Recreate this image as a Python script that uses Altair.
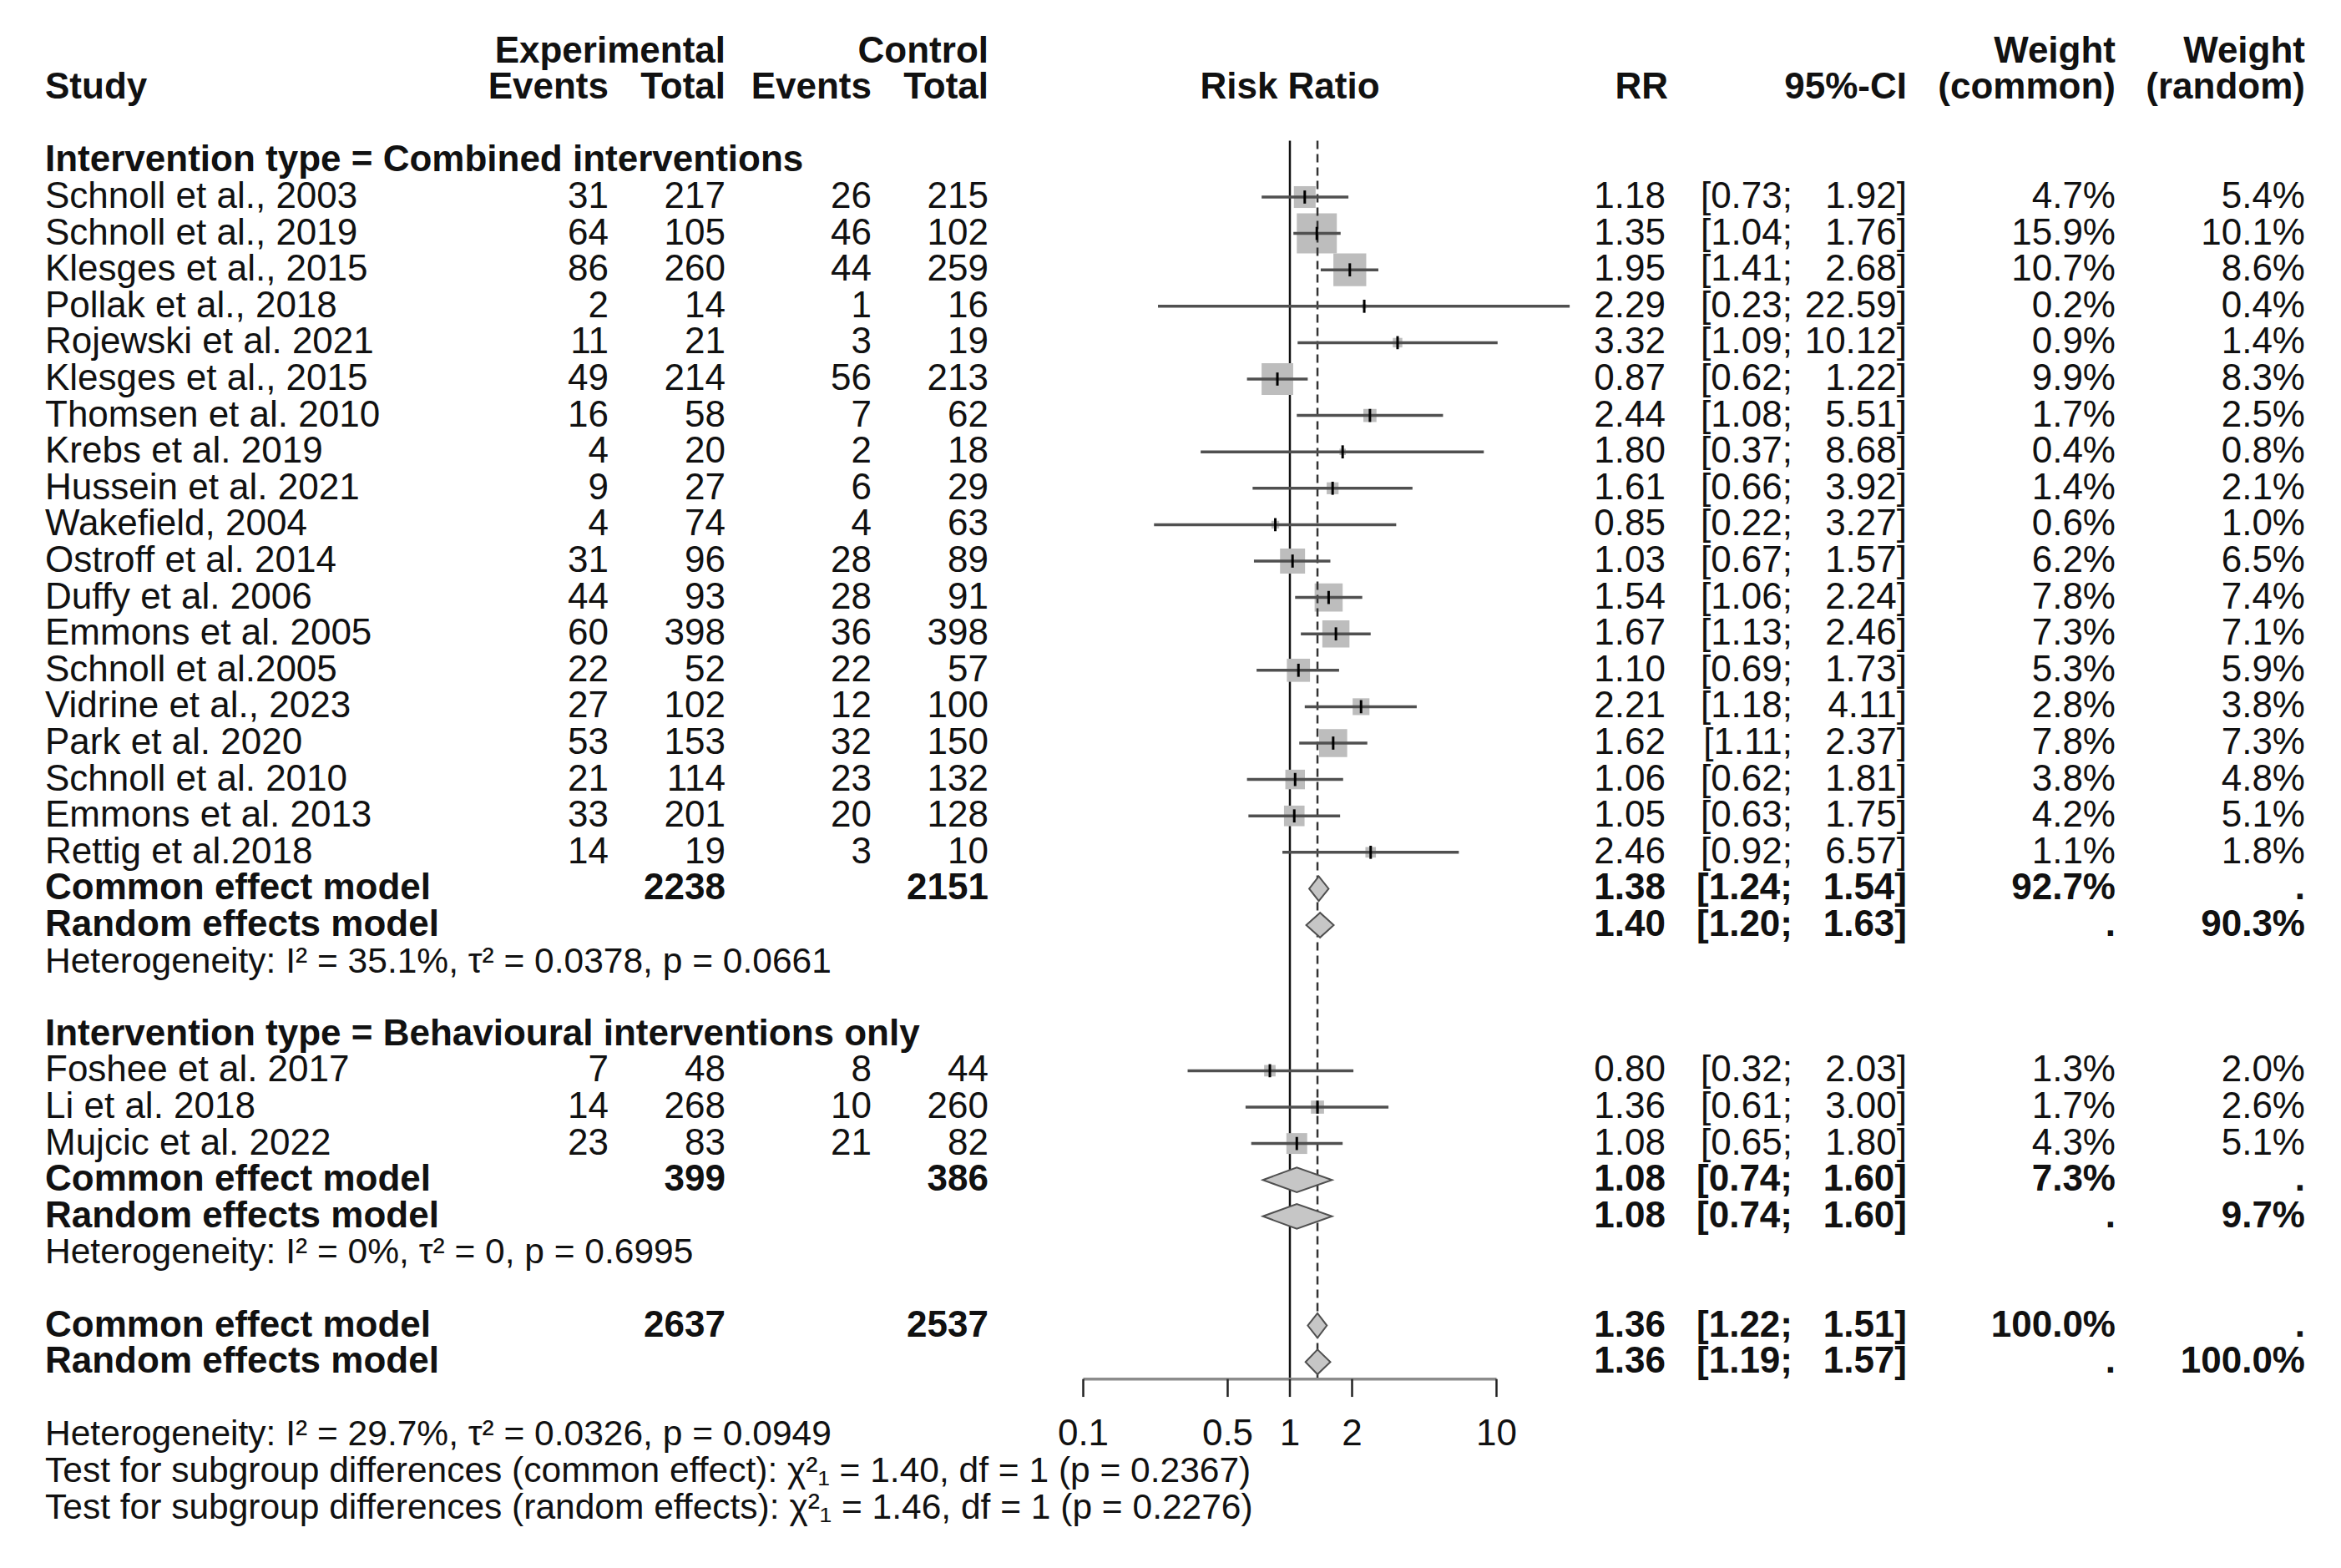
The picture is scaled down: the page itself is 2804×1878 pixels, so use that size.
import altair as alt
import pandas as pd

# ------------------------------------------------------------------ data
study = ["Schnoll et al., 2003", "Schnoll et al., 2019", "Klesges et al., 2015", "Pollak et al., 2018",
         "Rojewski et al. 2021", "Klesges et al., 2015", "Thomsen et al. 2010", "Krebs et al. 2019",
         "Hussein et al. 2021", "Wakefield, 2004", "Ostroff et al. 2014", "Duffy et al. 2006",
         "Emmons et al. 2005", "Schnoll et al.2005", "Vidrine et al., 2023", "Park et al. 2020",
         "Schnoll et al. 2010", "Emmons et al. 2013", "Rettig et al.2018",
         "Foshee et al. 2017", "Li et al. 2018", "Mujcic et al. 2022"]
ev_exp = [31, 64, 86, 2, 11, 49, 16, 4, 9, 4, 31, 44, 60, 22, 27, 53, 21, 33, 14, 7, 14, 23]
n_exp = [217, 105, 260, 14, 21, 214, 58, 20, 27, 74, 96, 93, 398, 52, 102, 153, 114, 201, 19, 48, 268, 83]
ev_ctl = [26, 46, 44, 1, 3, 56, 7, 2, 6, 4, 28, 28, 36, 22, 12, 32, 23, 20, 3, 8, 10, 21]
n_ctl = [215, 102, 259, 16, 19, 213, 62, 18, 29, 63, 89, 91, 398, 57, 100, 150, 132, 128, 10, 44, 260, 82]
rr = [1.18, 1.35, 1.95, 2.29, 3.32, 0.87, 2.44, 1.80, 1.61, 0.85, 1.03, 1.54, 1.67, 1.10, 2.21, 1.62,
      1.06, 1.05, 2.46, 0.80, 1.36, 1.08]
ci_lo = [0.73, 1.04, 1.41, 0.23, 1.09, 0.62, 1.08, 0.37, 0.66, 0.22, 0.67, 1.06, 1.13, 0.69, 1.18, 1.11,
         0.62, 0.63, 0.92, 0.32, 0.61, 0.65]
ci_hi = [1.92, 1.76, 2.68, 22.59, 10.12, 1.22, 5.51, 8.68, 3.92, 3.27, 1.57, 2.24, 2.46, 1.73, 4.11, 2.37,
         1.81, 1.75, 6.57, 2.03, 3.00, 1.80]
w_common = [4.7, 15.9, 10.7, 0.2, 0.9, 9.9, 1.7, 0.4, 1.4, 0.6, 6.2, 7.8, 7.3, 5.3, 2.8, 7.8, 3.8, 4.2, 1.1,
            1.3, 1.7, 4.3]
w_random = [5.4, 10.1, 8.6, 0.4, 1.4, 8.3, 2.5, 0.8, 2.1, 1.0, 6.5, 7.4, 7.1, 5.9, 3.8, 7.3, 4.8, 5.1, 1.8,
            2.0, 2.6, 5.1]

subgroup_titles = ["Intervention type = Combined interventions",
                   "Intervention type = Behavioural interventions only"]

model_label = ["Common effect model", "Random effects model"] * 3
model_rr = [1.38, 1.40, 1.08, 1.08, 1.36, 1.36]
model_lo = [1.24, 1.20, 0.74, 0.74, 1.22, 1.19]
model_hi = [1.54, 1.63, 1.60, 1.60, 1.51, 1.57]
model_wc = ["92.7%", ".", "7.3%", ".", "100.0%", "."]
model_wr = [".", "90.3%", ".", "9.7%", ".", "100.0%"]
model_n_exp = ["2238", "", "399", "", "2637", ""]
model_n_ctl = ["2151", "", "386", "", "2537", ""]

het_text = ["Heterogeneity: I² = 35.1%, τ² = 0.0378, p = 0.0661",
            "Heterogeneity: I² = 0%, τ² = 0, p = 0.6995",
            "Heterogeneity: I² = 29.7%, τ² = 0.0326, p = 0.0949"]
test_text = ["Test for subgroup differences (common effect): χ²₁ = 1.40, df = 1 (p = 0.2367)",
             "Test for subgroup differences (random effects): χ²₁ = 1.46, df = 1 (p = 0.2276)"]

axis_ticks = [0.1, 0.5, 1, 2, 10]
axis_labels = ["0.1", "0.5", "1", "2", "10"]
null_value = 1
common_estimate = 1.36

# ------------------------------------------------------------------ layout (rows)
study_rows = list(range(0, 19)) + [24, 25, 26]
subgroup_rows = [-1, 23]
model_rows = [19, 20, 27, 28, 31, 32]
het_rows = [21, 29, 34]
test_rows = [35, 36]
AXIS_ROW = 32.47
TICK_LEN = 0.49
LABEL_ROW = 34
LINE_TOP = -1.55

FONT = "Liberation Sans"
FS = 44
FS_SMALL = 42.5
INK = "#111111"

Y0, DY = 228.0, 43.6
YS = alt.Scale(domain=[-4, 36], range=[Y0 - 4 * DY, Y0 + 36 * DY], nice=False, zero=False)
XS = alt.Scale(type="log", domain=[0.1, 10], range=[1289.5, 1784.5], nice=False)

# column anchors (pixels in chart)
C_STUDY = 46
C_EEV, C_EN, C_CEV, C_CN = 721, 861, 1036, 1176
C_RISK = 1537
C_RR, C_LO, C_HI = 1987, 2139, 2276
C_WC, C_WR = 2526, 2753

# ------------------------------------------------------------------ frames
sdf = pd.DataFrame({
    "row": study_rows, "study": study,
    "ev_exp": [str(v) for v in ev_exp], "n_exp": [str(v) for v in n_exp],
    "ev_ctl": [str(v) for v in ev_ctl], "n_ctl": [str(v) for v in n_ctl],
    "rr": rr, "lo": ci_lo, "hi": ci_hi, "w": w_common,
    "rr_t": [f"{v:.2f}" for v in rr], "lo_t": [f"[{v:.2f};" for v in ci_lo],
    "hi_t": [f"{v:.2f}]" for v in ci_hi],
    "wc_t": [f"{v:.1f}%" for v in w_common], "wr_t": [f"{v:.1f}%" for v in w_random],
})
sdf["t1"] = sdf["row"] - 0.18
sdf["t2"] = sdf["row"] + 0.18

mdf = pd.DataFrame({
    "row": model_rows, "label": model_label,
    "rr_t": [f"{v:.2f}" for v in model_rr], "lo_t": [f"[{v:.2f};" for v in model_lo],
    "hi_t": [f"{v:.2f}]" for v in model_hi], "wc_t": model_wc, "wr_t": model_wr,
    "n_exp": model_n_exp, "n_ctl": model_n_ctl,
})
mdf_tot = mdf[mdf["n_exp"] != ""]

H = 0.34
dia = []
for i, (r, e, l, h) in enumerate(zip(model_rows, model_rr, model_lo, model_hi)):
    dia += [dict(id=i, x=l, ya=r, yb=r), dict(id=i, x=e, ya=r - H, yb=r + H), dict(id=i, x=h, ya=r, yb=r)]
ddf = pd.DataFrame(dia)


def tlayer(df, field, x, align="right", bold=False, size=FS):
    return alt.Chart(df).mark_text(
        align=align, baseline="middle", font=FONT, fontSize=size,
        fontWeight="bold" if bold else "normal", color=INK
    ).encode(x=alt.value(x), y=alt.Y("row:Q", scale=YS, axis=None), text=alt.Text(f"{field}:N"))


def one(row, label):
    return pd.DataFrame({"row": [row], "label": [label]})


layers = []

# reference line at no effect
layers.append(alt.Chart(pd.DataFrame({"x": [null_value], "a": [LINE_TOP], "b": [AXIS_ROW]}))
              .mark_rule(color="#111111", strokeWidth=2.5)
              .encode(x=alt.X("x:Q", scale=XS, axis=None), y=alt.Y("a:Q", scale=YS, axis=None), y2="b:Q"))

# squares
layers.append(alt.Chart(sdf).mark_square(color="#bdbdbd", opacity=1).encode(
    x=alt.X("rr:Q", scale=XS, axis=None), y=alt.Y("row:Q", scale=YS, axis=None),
    size=alt.Size("w:Q", scale=alt.Scale(domain=[0, 15.9], range=[0, 2300], zero=True), legend=None)))

# dashed line at common estimate
layers.append(alt.Chart(pd.DataFrame({"x": [common_estimate], "a": [LINE_TOP], "b": [AXIS_ROW]}))
              .mark_rule(color="#333333", strokeWidth=2.5, strokeDash=[10, 6])
              .encode(x=alt.X("x:Q", scale=XS, axis=None), y=alt.Y("a:Q", scale=YS, axis=None), y2="b:Q"))

# CI lines
layers.append(alt.Chart(sdf).mark_rule(color="#505050", strokeWidth=3.5).encode(
    x=alt.X("lo:Q", scale=XS, axis=None), x2="hi:Q", y=alt.Y("row:Q", scale=YS, axis=None)))
# estimate ticks
layers.append(alt.Chart(sdf).mark_rule(color="#000000", strokeWidth=3).encode(
    x=alt.X("rr:Q", scale=XS, axis=None), y=alt.Y("t1:Q", scale=YS, axis=None), y2="t2:Q"))

# diamonds
layers.append(alt.Chart(ddf).mark_area(orient="vertical", fill="#c6c6c6", stroke="#505050",
                                       strokeWidth=2, interpolate="linear").encode(
    x=alt.X("x:Q", scale=XS, axis=None), y=alt.Y("ya:Q", scale=YS, axis=None), y2="yb:Q",
    detail="id:N"))

# x axis drawn with the x scale
layers.append(alt.Chart(pd.DataFrame({"a": [min(axis_ticks)], "b": [max(axis_ticks)], "row": [AXIS_ROW]}))
              .mark_rule(color="#8c8c8c", strokeWidth=3.5)
              .encode(x=alt.X("a:Q", scale=XS, axis=None), x2="b:Q", y=alt.Y("row:Q", scale=YS, axis=None)))
tdf = pd.DataFrame({"t": axis_ticks, "lab": axis_labels, "a": AXIS_ROW, "b": AXIS_ROW + TICK_LEN,
                    "row": LABEL_ROW})
layers.append(alt.Chart(tdf).mark_rule(color="#222222", strokeWidth=2.5).encode(
    x=alt.X("t:Q", scale=XS, axis=None), y=alt.Y("a:Q", scale=YS, axis=None), y2="b:Q"))
layers.append(alt.Chart(tdf).mark_text(font=FONT, fontSize=FS, color=INK, baseline="middle", align="center")
              .encode(x=alt.X("t:Q", scale=XS, axis=None), y=alt.Y("row:Q", scale=YS, axis=None),
                      text="lab:N"))

# headers
hdr = [(-4, "Experimental", C_EN, "right"), (-4, "Control", C_CN, "right"),
       (-4, "Weight", C_WC, "right"), (-4, "Weight", C_WR, "right"),
       (-3, "Study", C_STUDY, "left"), (-3, "Events", C_EEV, "right"), (-3, "Total", C_EN, "right"),
       (-3, "Events", C_CEV, "right"), (-3, "Total", C_CN, "right"), (-3, "Risk Ratio", C_RISK, "center"),
       (-3, "RR", C_RR + 3, "right"), (-3, "95%-CI", C_HI, "right"),
       (-3, "(common)", C_WC, "right"), (-3, "(random)", C_WR, "right")]
for r, lab, x, al in hdr:
    layers.append(tlayer(one(r, lab), "label", x, al, bold=True))
for r, lab in zip(subgroup_rows, subgroup_titles):
    layers.append(tlayer(one(r, lab), "label", C_STUDY, "left", bold=True))

# study rows
layers.append(tlayer(sdf, "study", C_STUDY, "left"))
for f, x in [("ev_exp", C_EEV), ("n_exp", C_EN), ("ev_ctl", C_CEV), ("n_ctl", C_CN),
             ("rr_t", C_RR), ("lo_t", C_LO), ("hi_t", C_HI), ("wc_t", C_WC), ("wr_t", C_WR)]:
    layers.append(tlayer(sdf, f, x))

# model rows
layers.append(tlayer(mdf, "label", C_STUDY, "left", bold=True))
for f, x in [("rr_t", C_RR), ("lo_t", C_LO), ("hi_t", C_HI), ("wc_t", C_WC), ("wr_t", C_WR)]:
    layers.append(tlayer(mdf, f, x, bold=True))
layers.append(tlayer(mdf_tot, "n_exp", C_EN, bold=True))
layers.append(tlayer(mdf_tot, "n_ctl", C_CN, bold=True))

# heterogeneity / tests
layers.append(tlayer(pd.DataFrame({"row": het_rows, "label": het_text}), "label", C_STUDY, "left",
                     size=FS_SMALL))
layers.append(tlayer(pd.DataFrame({"row": test_rows, "label": test_text}), "label", C_STUDY, "left",
                     size=FS_SMALL))

chart = alt.layer(*layers).properties(
    width=2788, height=1862, padding=0, background="white",
    autosize=alt.AutoSizeParams(type="none"),
).configure_view(stroke=None)

chart.save("out.html", embed_options={"renderer": "svg", "actions": False})
